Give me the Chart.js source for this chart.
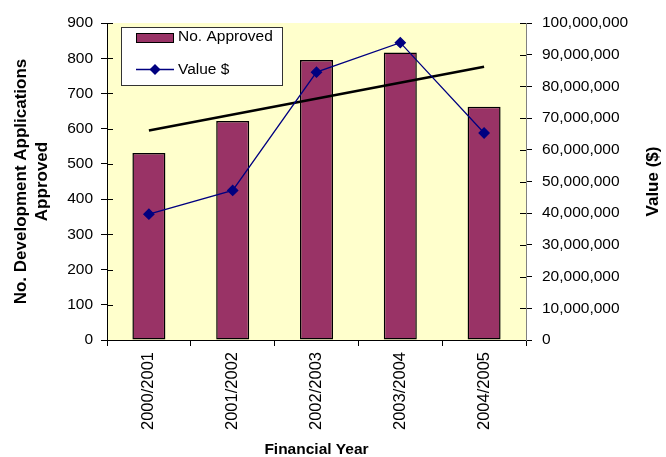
<!DOCTYPE html>
<html>
<head>
<meta charset="utf-8">
<script src="https://cdn.jsdelivr.net/npm/chart.js@4.4.1/dist/chart.umd.min.js"></script>
<style>
html,body{margin:0;padding:0;background:#fff;}
#wrap{width:666px;height:457px;position:relative;}
</style>
</head>
<body>
<div id="wrap"><canvas id="c" width="666" height="457"></canvas></div>
<script>
const categories = ['2000/2001','2001/2002','2002/2003','2003/2004','2004/2005'];
const approved = [531, 622, 795, 816, 662];
const valueDollars = [39700000, 47200000, 84500000, 93800000, 65300000];
const trendApproved = [595, null, null, null, 776];
const leftTicksMax = 900, leftStep = 100;
const rightTicksMax = 100000000, rightStep = 10000000;

const FONT = "'Liberation Sans', Arial, sans-serif";

const plotBg = {
  id: 'plotBg',
  beforeDraw(chart) {
    const {ctx, chartArea: a} = chart;
    ctx.save();
    ctx.fillStyle = '#FFFFCC';
    ctx.fillRect(a.left, a.top, a.right - a.left, a.bottom - a.top);
    ctx.restore();
  },
  afterDraw(chart) {
    const {ctx, chartArea: a, scales} = chart;
    ctx.save();
    ctx.lineWidth = 1;
    ctx.strokeStyle = '#000';
    scales.y.ticks.forEach(t => {
      const y = Math.round(scales.y.getPixelForValue(t.value)) + 0.5;
      ctx.beginPath(); ctx.moveTo(a.left, y); ctx.lineTo(a.left + 6, y); ctx.stroke();
    });
    scales.y1.ticks.forEach(t => {
      const y = Math.round(scales.y1.getPixelForValue(t.value)) + 0.5;
      ctx.beginPath(); ctx.moveTo(a.right - 6, y); ctx.lineTo(a.right, y); ctx.stroke();
    });
    ctx.font = 'bold 17px ' + FONT;
    ctx.fillStyle = '#000';
    ctx.textAlign = 'center';
    ctx.textBaseline = 'middle';
    ctx.translate(653, (a.top + a.bottom) / 2);
    ctx.rotate(-Math.PI / 2);
    ctx.fillText('Value ($)', 0, 0);
    ctx.restore();

    // legend
    ctx.save();
    const lx = 121.5, ly = 27.5, lw = 161, lh = 58;
    ctx.fillStyle = '#fff';
    ctx.fillRect(lx, ly, lw, lh);
    ctx.strokeStyle = '#333';
    ctx.lineWidth = 1;
    ctx.strokeRect(lx, ly, lw, lh);
    const barDs = chart.data.datasets[2];
    const lineDs = chart.data.datasets[1];
    ctx.fillStyle = barDs.backgroundColor;
    ctx.fillRect(136, 33, 37, 9);
    ctx.strokeStyle = '#000';
    ctx.strokeRect(136.5, 33.5, 37, 9);
    ctx.strokeStyle = lineDs.borderColor;
    ctx.lineWidth = 1.3;
    ctx.beginPath(); ctx.moveTo(136, 69.5); ctx.lineTo(174, 69.5); ctx.stroke();
    ctx.fillStyle = lineDs.borderColor;
    ctx.beginPath();
    ctx.moveTo(155, 64); ctx.lineTo(160.5, 69.5); ctx.lineTo(155, 75); ctx.lineTo(149.5, 69.5); ctx.closePath();
    ctx.fill();
    ctx.fillStyle = '#000';
    ctx.font = '15.5px ' + FONT;
    ctx.textAlign = 'left';
    ctx.textBaseline = 'middle';
    ctx.fillText(barDs.label, 178, 37);
    ctx.fillText(lineDs.label, 178, 70);
    ctx.restore();
  }
};

new Chart(document.getElementById('c'), {
  type: 'bar',
  data: {
    labels: categories,
    datasets: [
      {
        type: 'line',
        label: 'trend',
        data: trendApproved,
        yAxisID: 'y',
        borderColor: '#000',
        borderWidth: 2.6,
        pointRadius: 0,
        spanGaps: true,
        fill: false,
        order: 1
      },
      {
        type: 'line',
        label: 'Value $',
        data: valueDollars,
        yAxisID: 'y1',
        borderColor: '#000080',
        backgroundColor: '#000080',
        borderWidth: 1.3,
        pointStyle: 'rectRot',
        pointRadius: 5,
        pointBackgroundColor: '#000080',
        pointBorderColor: '#000080',
        tension: 0,
        fill: false,
        order: 0
      },
      {
        type: 'bar',
        label: 'No. Approved',
        data: approved,
        yAxisID: 'y',
        backgroundColor: '#993366',
        borderColor: '#000',
        borderWidth: 1.5,
        borderSkipped: false,
        categoryPercentage: 1,
        barPercentage: 0.394,
        order: 2
      }
    ]
  },
  options: {
    responsive: false,
    animation: false,
    devicePixelRatio: 1,
    layout: {padding: {top: 23, left: 0, right: 0, bottom: 0}},
    plugins: {legend: {display: false}, tooltip: {enabled: false}},
    scales: {
      x: {
        offset: true,
        grid: {display: true, drawOnChartArea: false, tickLength: 6, color: '#000', offset: true},
        border: {color: '#000', width: 1},
        ticks: {
          color: '#000', font: {family: FONT, size: 16.5},
          minRotation: 90, maxRotation: 90, padding: 6, autoSkip: false
        },
        title: {display: true, text: 'Financial Year', color: '#000',
          font: {family: FONT, size: 15.5, weight: 'bold', lineHeight: 1.0}, padding: {top: 0, bottom: 0}},
        afterFit(s) { s.height = 117; }
      },
      y: {
        position: 'left',
        min: 0, max: leftTicksMax,
        grid: {display: true, drawOnChartArea: false, tickLength: 6, color: '#000'},
        border: {color: '#000', width: 1},
        ticks: {stepSize: leftStep, color: '#000', font: {family: FONT, size: 15.5}, padding: 8},
        title: {display: true, text: ['No. Development Applications', 'Approved'], color: '#000',
          font: {family: FONT, size: 17, weight: 'bold', lineHeight: 1.24}, padding: {top: 10.5, bottom: 0}},
        afterFit(s) { s.width = 107; }
      },
      y1: {
        position: 'right',
        min: 0, max: rightTicksMax,
        grid: {display: true, drawOnChartArea: false, tickLength: 6, color: '#000'},
        border: {color: '#808080', width: 1},
        ticks: {stepSize: rightStep, color: '#000', font: {family: FONT, size: 15.5}, padding: 10,
          callback: v => Number(v).toLocaleString('en-US')},
        afterFit(s) { s.width = 140; }
      }
    }
  },
  plugins: [plotBg]
});
</script>
</body>
</html>
